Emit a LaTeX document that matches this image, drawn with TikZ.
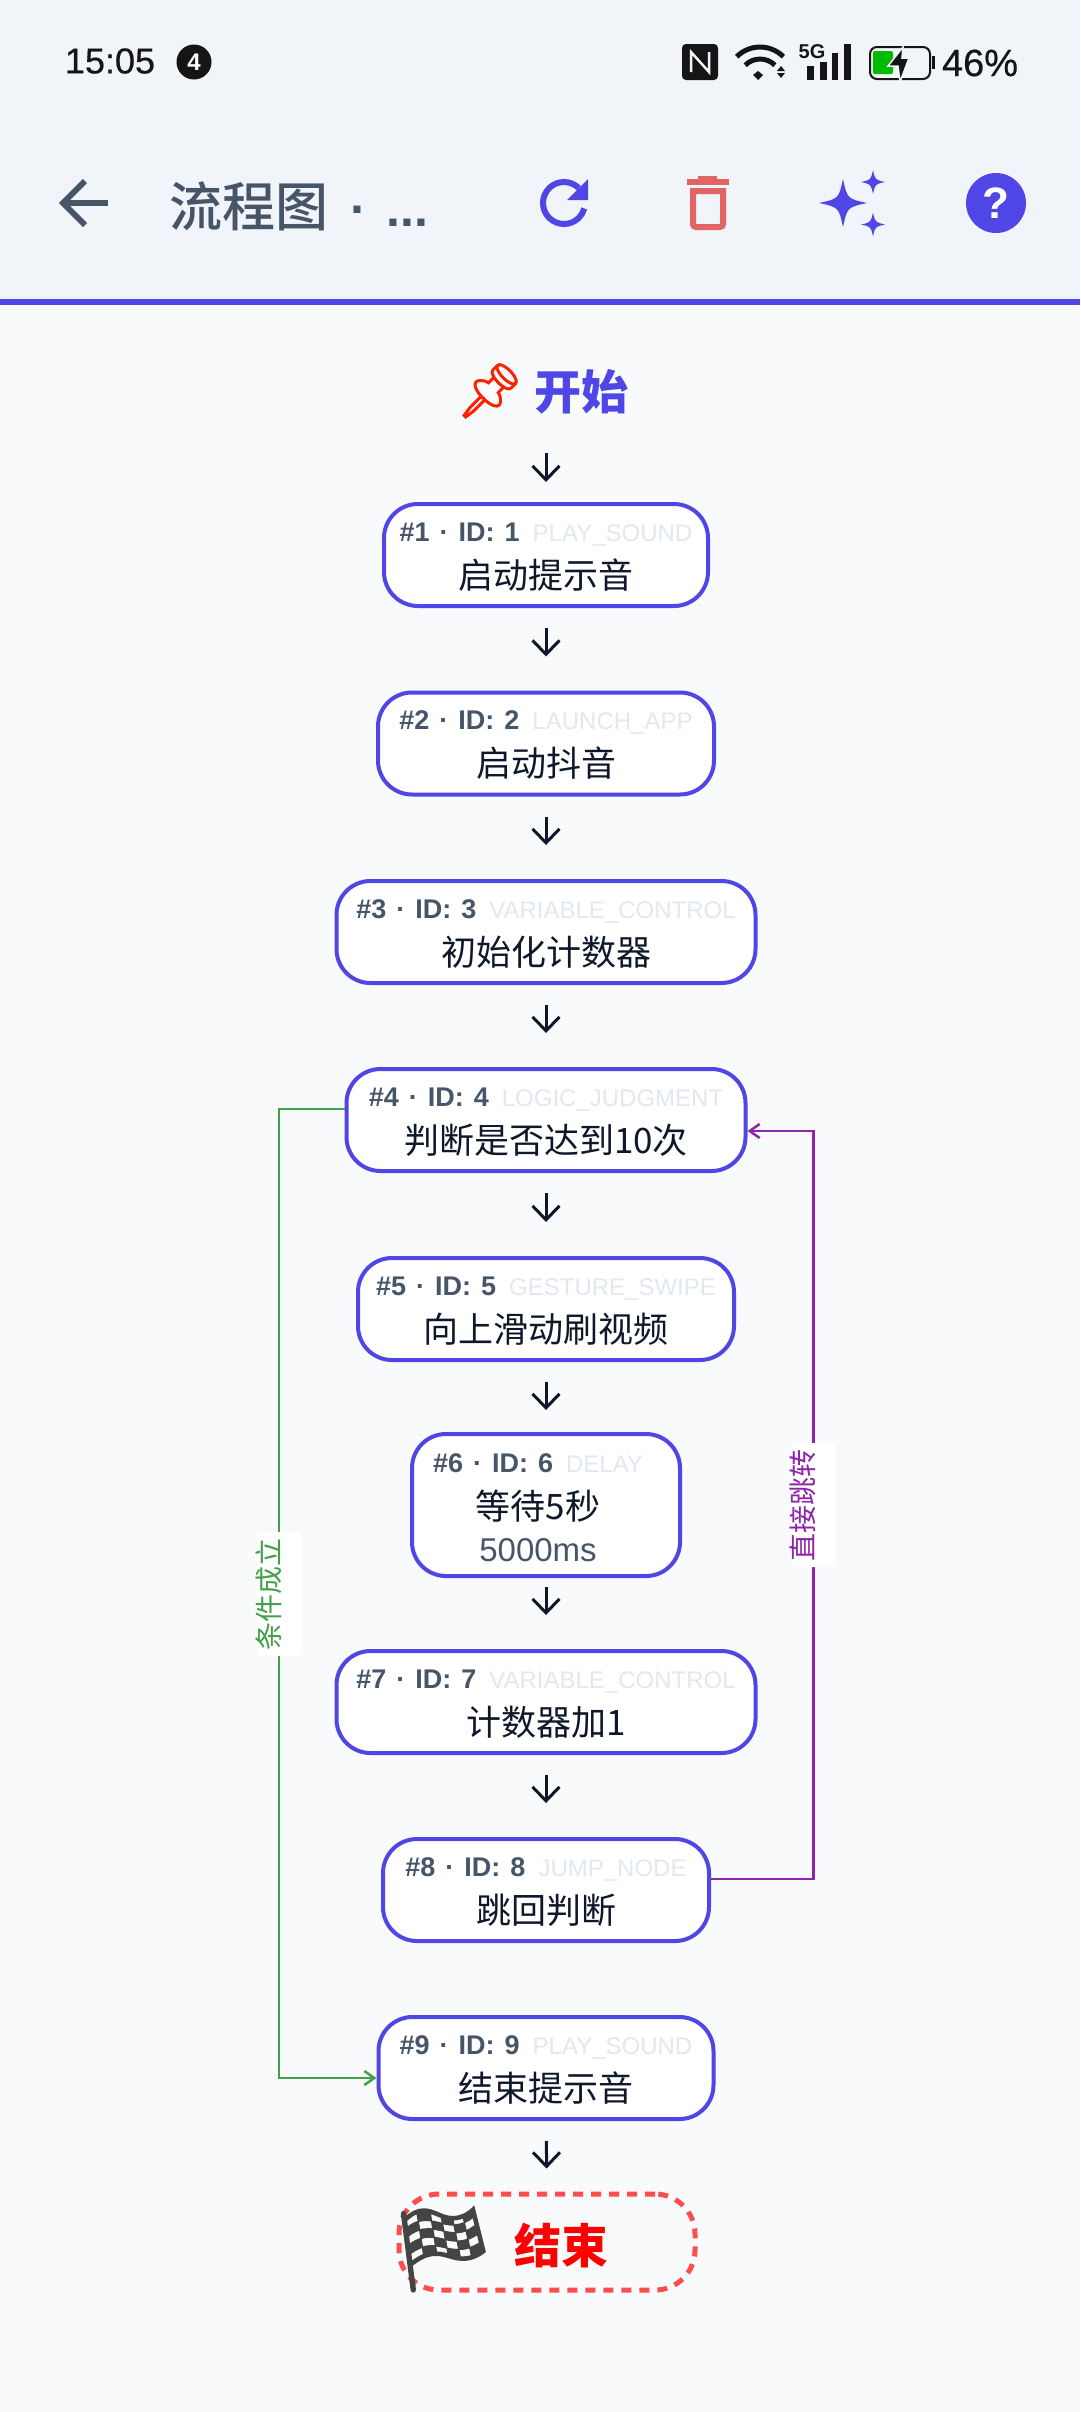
\documentclass[tikz,border=0pt]{standalone}
\usepackage{fontspec}
\setmainfont{Noto Sans CJK SC}
\newfontfamily\cjkmedium{Noto Sans CJK SC Medium}
\newfontfamily\latinfont{Liberation Sans}
\newfontfamily\phonefont[FakeBold=0.5]{Liberation Sans}
\newfontfamily\emojifont[FakeBold=1.5]{Noto Emoji}
\usetikzlibrary{arrows.meta}
\definecolor{accent}{HTML}{4F46E5}
\definecolor{slate}{HTML}{475569}
\definecolor{pale}{HTML}{E2E8F0}
\definecolor{ink}{HTML}{0F172A}
\definecolor{barbg}{HTML}{F1F5F9}
\definecolor{pagebg}{HTML}{F8FAFC}
\definecolor{trash}{HTML}{E36464}
\definecolor{yesline}{HTML}{43A047}
\definecolor{jumpline}{HTML}{8E24AA}
\definecolor{stopred}{HTML}{FF4D4D}
\definecolor{phone}{HTML}{151515}
\newcommand{\stephead}[2]{{\latinfont\color{slate}\fontsize{27}{27}\selectfont\bfseries\spaceskip=10pt\relax #1\hspace{13pt}\mdseries\color{pale}\fontsize{24}{24}\selectfont #2}}
\newcommand{\sparkle}[3]{\fill[accent,shift={(#1,#2)},scale=#3] (0,-1) .. controls (.18,-.18) .. (1,0) .. controls (.18,.18) .. (0,1) .. controls (-.18,.18) .. (-1,0) .. controls (-.18,-.18) .. cycle;}
\begin{document}
\begin{tikzpicture}[> = {Straight Barb[length=14pt,width=27pt]}, x=1pt, y=-1pt]
                \tikzstyle{stepbox}=[draw=accent, line width=4pt, fill=white, rounded corners=34pt, inner sep=0pt, minimum height=102pt, align=center, text=ink, font=\fontsize{35}{47}\selectfont, text height=84pt, text depth=18pt]
                \tikzstyle{flow}=[->, line width=3pt, draw=ink, shorten <=20pt, shorten >=34pt]
                \tikzstyle{branch}=[-{Straight Barb[length=10pt,width=14pt]}, line width=2.5pt]
                \tikzstyle{edgetext}=[rotate=90, fill=white, rounded corners=4pt, inner xsep=6pt, inner ysep=0pt, font=\fontsize{28}{28}\selectfont, text height=22pt, text depth=22pt]
                \useasboundingbox (0,0) rectangle (1080,2412);

                    % Fundo
                    \fill[pagebg] (0,0) rectangle (1080,2412);
                    \fill[barbg] (0,0) rectangle (1080,299);
                    \fill[accent] (0,299) rectangle (1080,305);

                    % Barra de estado
                    \node[text=phone, font=\phonefont\fontsize{36}{36}\selectfont] (clock) at (110,61) {15:05};
                    \node[circle, fill=phone, text=white, inner sep=0pt, minimum size=35pt, font=\latinfont\bfseries\fontsize{24}{24}\selectfont] (badge) at (194,62) {4};
                    \fill[phone, rounded corners=4pt] (682,44) rectangle (718,80);
                    \draw[barbg, line width=2.5pt] (691,72) -- (691,52) -- (709,72) -- (709,52);
                    \draw[phone, line width=5pt] (736.7,56.7) arc (-135:-45:33);
                    \draw[phone, line width=5pt] (745.2,65.2) arc (-135:-45:21);
                    \fill[phone] (758,71) -- (763,75) -- (758,80) -- (753,75) -- cycle;
                    \fill[phone] (781,66) -- (785,71) -- (777,71) -- cycle;
                    \fill[phone] (781,78) -- (785,73) -- (777,73) -- cycle;
                    \node[text=phone, inner sep=0pt, font=\latinfont\bfseries\fontsize{20}{20}\selectfont] (net) at (812,52) {5G};
                    \fill[phone] (807,66) rectangle (814,80);
                    \fill[phone] (820,62) rectangle (827,80);
                    \fill[phone] (832,53) rectangle (838,80);
                    \fill[phone] (844,44) rectangle (851,80);
                    \draw[phone, line width=2pt, rounded corners=7pt] (870,47) rectangle (930,79);
                    \fill[phone] (932,56) rectangle (935,69);
                    \fill[green!73!black, rounded corners=2pt] (873,51) rectangle (893,74);
                    \filldraw[fill=phone, draw=barbg, line width=1.5pt] (903,47) -- (888,66) -- (898,66) -- (900,82) -- (909,58) -- (902,58) -- cycle;
                    \node[text=phone, font=\phonefont\fontsize{38}{38}\selectfont] (level) at (980,63) {46\%};

                    % Barra de ferramentas
                    \draw[slate, line width=6pt] (108,203) -- (64,203);
                    \draw[slate, line width=6pt] (85,181) -- (63,203) -- (85,225);
                    \node[anchor=west, inner sep=0pt, text=slate, font=\cjkmedium\fontsize{53}{53}\selectfont] (title) at (169,206) {流程图{\latinfont\bfseries\fontsize{50}{50}\selectfont\hspace{22pt}·\hspace{20pt}...}};
                    \draw[accent, line width=6pt] (578.85,188.15) arc (-45:-345:21);
                    \fill[accent] (588,179) -- (588,200) -- (567,200) -- cycle;
                    \fill[trash] (687,179) rectangle (729,185);
                    \fill[trash] (698,176) rectangle (717,180);
                    \draw[trash, line width=6pt] (693,191) -- (693,221) [rounded corners=3pt] -- (693,227) -- (723,227) [sharp corners] -- (723,191) -- cycle;
                    \sparkle{843}{203}{24}
                    \sparkle{873}{182}{12}
                    \sparkle{873}{224.5}{12}
                    \node[circle, fill=accent, text=white, inner sep=0pt, minimum size=60pt, font=\latinfont\bfseries\fontsize{44}{44}\selectfont] (help) at (996,203) {?};

                    % Nos
                    \node[inner sep=0pt, minimum height=60pt, text=accent, font=\bfseries\fontsize{47}{47}\selectfont] (start) at (546,391) {{\emojifont\color{red!75!orange}\fontsize{54}{54}\selectfont 📌}\hspace{10pt}开始\hspace*{8pt}};
                    \node[stepbox, minimum width=324pt] (n1) at (546,555) {\stephead{\#1 · ID: 1}{PLAY\_SOUND}\\启动提示音};
                    \node[stepbox, minimum width=336pt] (n2) at (546,743.5) {\stephead{\#2 · ID: 2}{LAUNCH\_APP}\\启动抖音};
                    \node[stepbox, minimum width=419pt] (n3) at (546,932) {\stephead{\#3 · ID: 3}{VARIABLE\_CONTROL}\\初始化计数器};
                    \node[stepbox, minimum width=399pt] (n4) at (546,1120) {\stephead{\#4 · ID: 4}{LOGIC\_JUDGMENT}\\判断是否达到10次};
                    \node[stepbox, minimum width=376pt] (n5) at (546,1309) {\stephead{\#5 · ID: 5}{GESTURE\_SWIPE}\\向上滑动刷视频};
                    \node[stepbox, minimum width=268pt, minimum height=142pt, text height=127pt, text depth=15pt] (n6) at (546,1505) {\stephead{\#6 · ID: 6}{DELAY}\hspace*{16pt}\\\mbox{等待5秒\hspace{16pt}}\\[-5pt]{\latinfont\color{slate}\fontsize{33}{33}\selectfont 5000ms}\hspace*{16pt}};
                    \node[stepbox, minimum width=419pt] (n7) at (546,1702) {\stephead{\#7 · ID: 7}{VARIABLE\_CONTROL}\\计数器加1};
                    \node[stepbox, minimum width=326pt] (n8) at (546,1890) {\stephead{\#8 · ID: 8}{JUMP\_NODE}\\跳回判断};
                    \node[stepbox, minimum width=335pt] (n9) at (546,2068) {\stephead{\#9 · ID: 9}{PLAY\_SOUND}\\结束提示音};
                    \node[draw=stopred, line width=5pt, dash pattern=on 10pt off 8pt, rounded corners=40pt, inner sep=0pt, minimum width=296pt, minimum height=96pt, text height=69pt, text depth=27pt, text=red, font=\bfseries\fontsize{47}{47}\selectfont] (stop) at (547,2242) {\makebox[296pt][l]{\hspace*{-9pt}\raisebox{-15pt}{\emojifont\color{phone!80}\fontsize{84}{84}\selectfont 🏁}\hspace{18pt}结束}};
                    \coordinate (yesbend) at (279,1594);
                    \coordinate (jumpbend) at (813.5,1505);

                    % Arestas
                    \draw[flow, shorten <=32pt, shorten >=20pt] (start) -- (n1);
                    \draw[flow] (n1) -- (n2);
                    \draw[flow] (n2) -- (n3);
                    \draw[flow] (n3) -- (n4);
                    \draw[flow] (n4) -- (n5);
                    \draw[flow, shorten >=22pt] (n5) -- (n6);
                    \draw[flow, shorten <=9pt] (n6) -- (n7);
                    \draw[flow] (n7) -- (n8);
                    \draw[flow, shorten >=23pt] (n9) -- (stop);
                    \draw[branch, yesline] ([yshift=11pt]n4.west) -| (yesbend) |- ([yshift=-10pt]n9.west);
                    \draw[branch, jumpline] ([yshift=11pt]n8.east) -| (jumpbend) |- ([yshift=-11pt]n4.east);

                    \node[edgetext, text=yesline] (yestext) at (yesbend) {条件成立};
                    \node[edgetext, text=jumpline] (jumptext) at (jumpbend) {直接跳转};
            \end{tikzpicture}
\end{document}
